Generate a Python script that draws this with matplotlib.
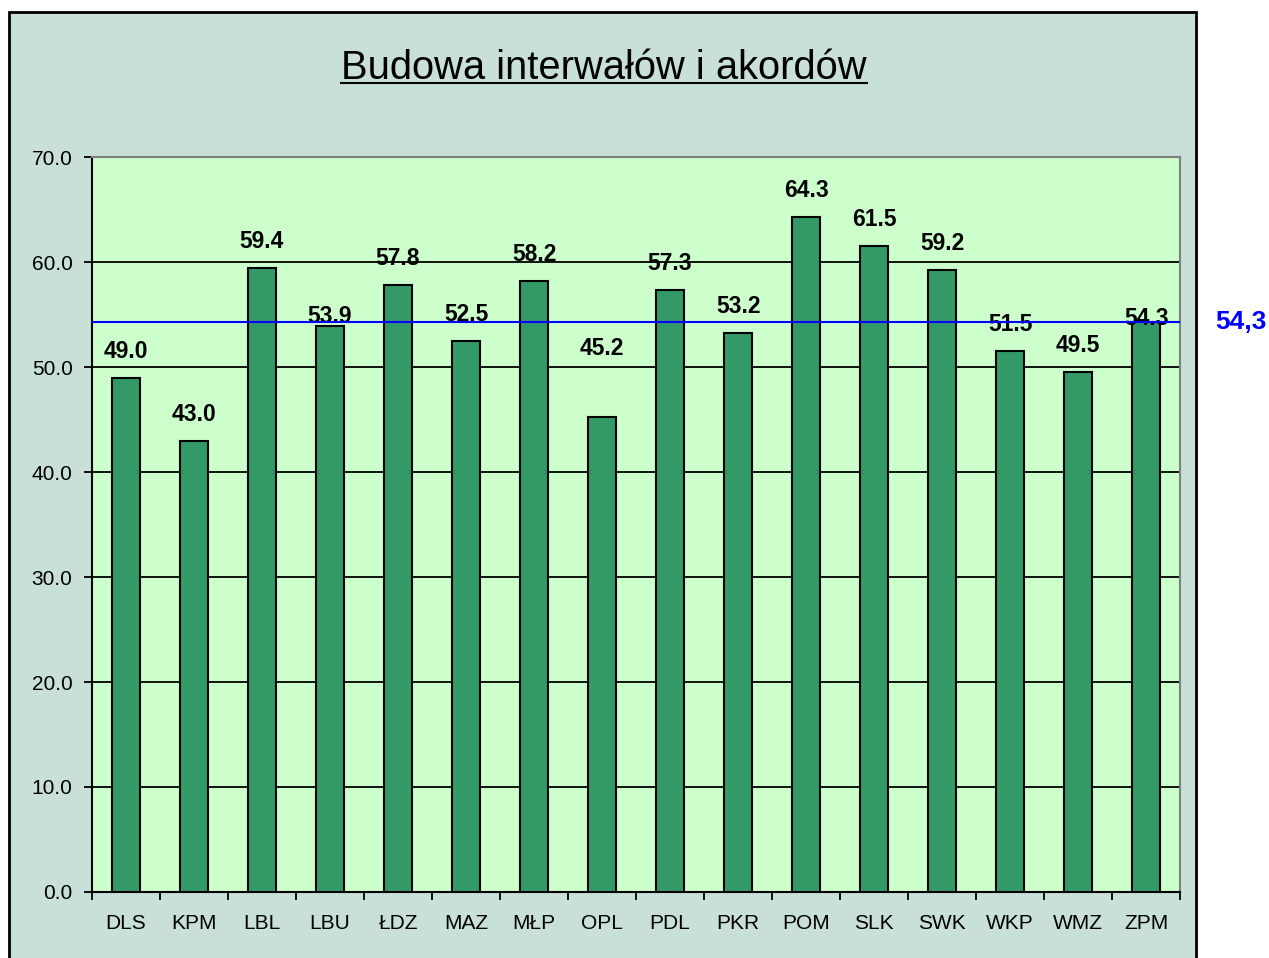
import numpy as np
import matplotlib
matplotlib.use("Agg")
import matplotlib.pyplot as plt
from matplotlib.patches import Rectangle
from matplotlib.lines import Line2D

# -----------------------------
# Data
# -----------------------------
regions = ["DLS", "KPM", "LBL", "LBU", "ŁDZ", "MAZ", "MŁP", "OPL",
           "PDL", "PKR", "POM", "SLK", "SWK", "WKP", "WMZ", "ZPM"]
scores = [49.0, 43.0, 59.4, 53.9, 57.8, 52.5, 58.2, 45.2,
          57.3, 53.2, 64.3, 61.5, 59.2, 51.5, 49.5, 54.3]
average = 54.3
average_label = "54,3"
title = "Budowa interwałów i akordów"

# gap between bar top and value label baseline (points); a few were moved by hand
label_gap = [14.4] * len(regions)
label_gap[3] = 2.2     # LBU
label_gap[7] = 45.0    # OPL
label_gap[15] = -2.2   # ZPM

plt.rcParams["font.family"] = ["Liberation Sans", "DejaVu Sans"]

fig = plt.figure(figsize=(12.69, 9.58), dpi=100)
fig.patch.set_facecolor("white")

# outer chart area
fig.patches.append(Rectangle((0.0071, -0.02), 0.9354, 1.0075, transform=fig.transFigure,
                             facecolor="#c8e0d8", edgecolor="black", linewidth=2, zorder=-5))

ax = fig.add_axes([0.0725, 0.0689, 0.8575, 0.7672])
ax.set_zorder(2)
ax.set_facecolor("#ccffcc")

x = np.arange(len(regions))
ax.bar(x, scores, width=0.41, color="#339966", edgecolor="black", linewidth=1.5, zorder=3)

for xi, v, g in zip(x, scores, label_gap):
    ax.annotate(f"{v:.1f}", (xi, v), xytext=(0, g), textcoords="offset points",
                ha="center", va="baseline", fontsize=16.5, fontweight="bold", zorder=5)

ax.axhline(average, color="#0000ff", linewidth=1.5, zorder=6)

ax.set_xlim(-0.5, len(regions) - 0.5)
ax.set_ylim(0, 70)
ax.set_yticks(np.arange(0, 71, 10))
ax.set_yticklabels([f"{t:.1f}" for t in np.arange(0, 71, 10)], fontsize=15)
ax.yaxis.grid(True, color="black", linewidth=1.3, zorder=1)
ax.set_axisbelow(True)

ax.set_xticks(x)
ax.set_xticklabels(regions, fontsize=15)
ax.set_xticks(np.arange(-0.5, len(regions)), minor=True)
ax.tick_params(axis="x", which="major", length=0, pad=16)
ax.tick_params(axis="x", which="minor", length=6, width=1.3, direction="out")
ax.tick_params(axis="y", length=6, width=1.3, direction="out", pad=8)

for side in ["left", "bottom"]:
    ax.spines[side].set_color("black")
    ax.spines[side].set_linewidth(1.5)
for side in ["top", "right"]:
    ax.spines[side].set_color("#808080")
    ax.spines[side].set_linewidth(1.5)

# title with underline
t = fig.text(0.476, 0.929, title, ha="center", va="center", fontsize=28.7)
fig.canvas.draw()
bb = t.get_window_extent().transformed(fig.transFigure.inverted())
fig.lines.append(Line2D([bb.x0, bb.x1], [bb.y0 + 0.004, bb.y0 + 0.004],
                        transform=fig.transFigure, color="black", linewidth=1.5))

# average label outside
ya = ax.transData.transform((0, average))[1] / fig.bbox.height
fig.text(0.978, ya, average_label, ha="center", va="center", fontsize=19,
         fontweight="bold", color="#0000ff")

fig.savefig("out.png", dpi=100)
